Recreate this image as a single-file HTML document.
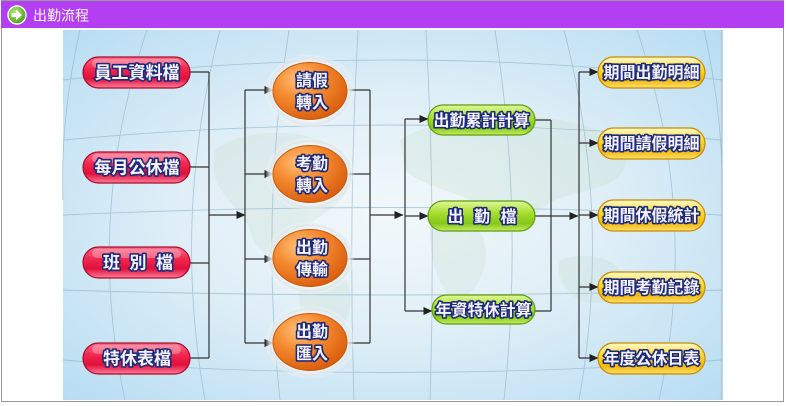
<!DOCTYPE html>
<html><head><meta charset="utf-8"><style>
html,body{margin:0;padding:0;background:#fff;width:786px;height:406px;overflow:hidden;}
svg{display:block;}
text{font-family:"Liberation Sans","Noto Sans CJK TC",sans-serif;font-weight:bold;}
.lbl{fill:#f6f2ff;stroke:#1c2a7a;stroke-width:3.2;paint-order:stroke;stroke-linejoin:round;}
.ln{stroke:#333;stroke-width:1.2;fill:none;}
</style></head><body>
<svg width="786" height="406" viewBox="0 0 786 406" xmlns="http://www.w3.org/2000/svg">
<defs>
<radialGradient id="bg" cx="0.5" cy="0.5" r="0.7">
<stop offset="0" stop-color="#f2f8fb"/><stop offset="0.45" stop-color="#e0eff7"/><stop offset="1" stop-color="#b8ddf3"/>
</radialGradient>
<linearGradient id="red" x1="0" y1="0" x2="0" y2="1">
<stop offset="0" stop-color="#ff6f8a"/><stop offset="0.35" stop-color="#f22a52"/><stop offset="0.7" stop-color="#e0103a"/><stop offset="1" stop-color="#ff7d9a"/>
</linearGradient>
<linearGradient id="grn" x1="0" y1="0" x2="0" y2="1">
<stop offset="0" stop-color="#e2f89a"/><stop offset="0.4" stop-color="#a6de30"/><stop offset="0.75" stop-color="#86c818"/><stop offset="1" stop-color="#c4ec60"/>
</linearGradient>
<linearGradient id="yel" x1="0" y1="0" x2="0" y2="1">
<stop offset="0" stop-color="#fffad0"/><stop offset="0.4" stop-color="#fbd82c"/><stop offset="0.75" stop-color="#f2b808"/><stop offset="1" stop-color="#fde070"/>
</linearGradient>
<radialGradient id="org" cx="0.35" cy="0.3" r="0.75">
<stop offset="0" stop-color="#ffc27a"/><stop offset="0.45" stop-color="#f58a30"/><stop offset="1" stop-color="#d85c0c"/>
</radialGradient>
<radialGradient id="halo" cx="0.5" cy="0.5" r="0.5">
<stop offset="0.75" stop-color="#ffffff" stop-opacity="0.9"/><stop offset="0.9" stop-color="#dfe6ea" stop-opacity="0.8"/><stop offset="1" stop-color="#ffffff" stop-opacity="0"/>
</radialGradient>
<radialGradient id="icn" cx="0.4" cy="0.35" r="0.7">
<stop offset="0" stop-color="#b8ec70"/><stop offset="1" stop-color="#3f9a10"/>
</radialGradient>
<marker id="ah" markerWidth="9" markerHeight="8" refX="8.5" refY="4" orient="auto" markerUnits="userSpaceOnUse">
<path d="M0,0 L9,4 L0,8 Z" fill="#222"/>
</marker>
</defs>

<!-- frame -->
<rect x="1.5" y="0.5" width="782" height="401" fill="#fff" stroke="#9a9a9a" stroke-width="1"/>
<rect x="1" y="1" width="783" height="27" fill="#b33ef2"/>
<circle cx="17" cy="15" r="9" fill="url(#icn)" stroke="#fff" stroke-width="1.4"/>
<path d="M11.5,13 H16 V9.5 L22,15 L16,20.5 V17 H11.5 Z" fill="#fff"/>
<text x="33" y="20.5" font-size="14" fill="#fff" style="font-weight:normal">出勤流程</text>

<!-- diagram background -->
<rect x="63" y="30" width="659" height="370" fill="url(#bg)"/>
<g fill="#c9dfcf" opacity="0.3">
<path d="M215,150 C240,130 290,128 320,140 C350,150 360,175 345,195 C330,215 300,225 285,245 C270,265 255,250 250,230 C240,205 205,190 215,150 Z"/>
<path d="M300,270 C320,262 345,270 350,290 C355,315 335,345 318,360 C305,340 295,300 300,270 Z"/>
<path d="M400,140 C430,120 500,110 560,120 C610,128 640,150 620,175 C600,195 560,190 540,210 C520,230 490,215 470,200 C450,190 420,185 405,170 Z"/>
<path d="M430,220 C455,210 480,220 485,245 C490,275 470,300 455,300 C440,290 428,260 430,220 Z"/>
<path d="M560,260 C585,250 620,258 625,280 C628,300 600,308 580,300 C565,292 555,275 560,260 Z"/>
</g>
<g fill="none" stroke="#98b8cc" stroke-width="0.9" opacity="0.7">
<path d="M358,30 Q348,215 354,400"/>
<path d="M426,30 Q436,215 430,400"/>
<path d="M289,30 Q260,215 280,400"/>
<path d="M495,30 Q524,215 504,400"/>
<path d="M220,30 Q172,215 205,400"/>
<path d="M564,30 Q612,215 579,400"/>
<path d="M147,30 Q85,215 125,400"/>
<path d="M637,30 Q700,215 659,400"/>
<path d="M80,30 Q60,120 63,200"/>
<path d="M704,30 Q724,120 722,200"/>
<path d="M63,80 Q392,40 722,80"/>
<path d="M63,140 Q392,110 722,140"/>
<path d="M63,215 Q392,200 722,215"/>
<path d="M63,290 Q392,300 722,290"/>
<path d="M63,360 Q392,385 722,360"/>
</g>
<line x1="722" y1="30" x2="722" y2="400" stroke="#8fb0c4" stroke-width="1"/>

<!-- connectors -->
<g class="ln">
<path d="M190,72 H209 M190,167 H209 M190,263 H209 M190,358 H209 M209,72 V358"/>
<path d="M209,215 H245" marker-end="url(#ah)"/>
<path d="M245,90 V343"/>
<path d="M245,90 H273" marker-end="url(#ah)"/>
<path d="M245,174 H273" marker-end="url(#ah)"/>
<path d="M245,259 H273" marker-end="url(#ah)"/>
<path d="M245,343 H273" marker-end="url(#ah)"/>
<path d="M346,90 H370 M346,174 H370 M346,259 H370 M346,343 H370 M370,90 V343"/>
<path d="M370,215 H403" marker-end="url(#ah)"/>
<path d="M405,119 V311"/>
<path d="M405,119 H428" marker-end="url(#ah)"/>
<path d="M405,216 H428" marker-end="url(#ah)"/>
<path d="M405,311 H432" marker-end="url(#ah)"/>
<path d="M535,120 H551 M535,311 H551 M551,120 V311"/>
<path d="M535,216 H578" marker-end="url(#ah)"/>
<path d="M579,72 V358"/>
<path d="M579,72 H598" marker-end="url(#ah)"/>
<path d="M579,143 H598" marker-end="url(#ah)"/>
<path d="M579,215 H598" marker-end="url(#ah)"/>
<path d="M579,287 H598" marker-end="url(#ah)"/>
<path d="M579,358 H598" marker-end="url(#ah)"/>
</g>

<!-- red pills -->
<g stroke="#a80c2c" stroke-width="1.2" fill="url(#red)">
<rect x="83" y="57" width="107" height="31" rx="15.5"/>
<rect x="83" y="152" width="107" height="31" rx="15.5"/>
<rect x="83" y="247" width="107" height="31" rx="15.5"/>
<rect x="83" y="343" width="107" height="31" rx="15.5"/>
</g>
<g fill="#ffffff" opacity="0.28">
<rect x="92" y="59" width="89" height="9" rx="4.5"/>
<rect x="92" y="154" width="89" height="9" rx="4.5"/>
<rect x="92" y="249" width="89" height="9" rx="4.5"/>
<rect x="92" y="345" width="89" height="9" rx="4.5"/>
</g>
<g class="lbl" font-size="17" text-anchor="middle">
<text x="137" y="78.5">員工資料檔</text>
<text x="137" y="173.5">每月公休檔</text>
<text x="111.5" y="268.5">班</text><text x="138" y="268.5">別</text><text x="164.5" y="268.5">檔</text>
<text x="137" y="364.5">特休表檔</text>
</g>

<!-- circles -->
<g>
<ellipse cx="310" cy="91" rx="45" ry="37" fill="url(#halo)"/>
<ellipse cx="310" cy="174" rx="45" ry="37" fill="url(#halo)"/>
<ellipse cx="310" cy="258" rx="45" ry="37" fill="url(#halo)"/>
<ellipse cx="310" cy="342" rx="45" ry="37" fill="url(#halo)"/>
</g>
<g fill="url(#org)" stroke="#c8580c" stroke-width="1">
<ellipse cx="310" cy="91" rx="37" ry="28.5"/>
<ellipse cx="310" cy="174" rx="37" ry="28.5"/>
<ellipse cx="310" cy="258" rx="37" ry="28.5"/>
<ellipse cx="310" cy="342" rx="37" ry="28.5"/>
</g>
<g class="lbl" font-size="16" text-anchor="middle">
<text x="312" y="86">請假</text><text x="312" y="108">轉入</text>
<text x="312" y="169">考勤</text><text x="312" y="191">轉入</text>
<text x="312" y="253">出勤</text><text x="312" y="275">傳輸</text>
<text x="312" y="337">出勤</text><text x="312" y="359">匯入</text>
</g>

<!-- green pills -->
<g stroke="#5e9c12" stroke-width="1.2" fill="url(#grn)">
<rect x="428" y="105" width="107" height="30" rx="15"/>
<rect x="428" y="201" width="107" height="30" rx="15"/>
<rect x="432" y="295" width="103" height="29" rx="14.5"/>
</g>
<g class="lbl" font-size="16" text-anchor="middle">
<text x="481.5" y="126">出勤累計計算</text>
<text x="455.5" y="222">出</text><text x="482" y="222">勤</text><text x="508.5" y="222">檔</text>
<text x="483.5" y="315.5">年資特休計算</text>
</g>

<!-- yellow pills -->
<g stroke="#c88a00" stroke-width="1.2" fill="url(#yel)">
<rect x="598" y="57" width="107" height="31" rx="15.5"/>
<rect x="598" y="128" width="107" height="31" rx="15.5"/>
<rect x="598" y="200" width="107" height="31" rx="15.5"/>
<rect x="598" y="272" width="107" height="31" rx="15.5"/>
<rect x="598" y="343" width="107" height="31" rx="15.5"/>
</g>
<g class="lbl" font-size="16" text-anchor="middle">
<text x="651.5" y="78">期間出勤明細</text>
<text x="651.5" y="149">期間請假明細</text>
<text x="651.5" y="221">期間休假統計</text>
<text x="651.5" y="293">期間考勤記錄</text>
<text x="651.5" y="364">年度公休日表</text>
</g>
</svg>
</body></html>
